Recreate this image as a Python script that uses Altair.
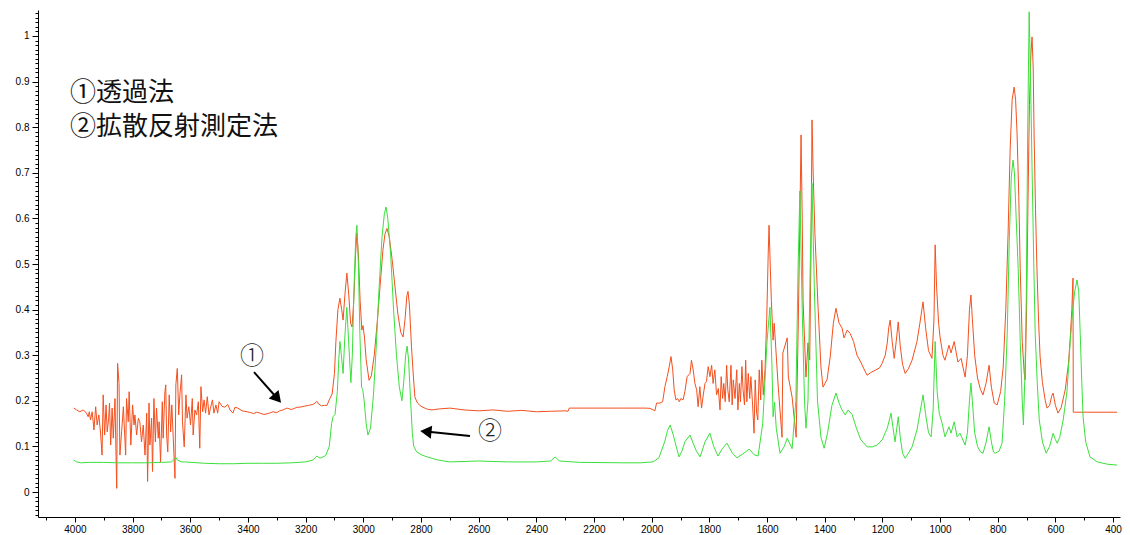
import altair as alt
import pandas as pd

# ① transmission spectrum (orange), (wavenumber, absorbance)
orange_noise = [
    (4004, 0.184), (3994, 0.180), (3983, 0.176), (3971, 0.180), (3960, 0.173), (3954, 0.165), (3950, 0.176),
    (3946, 0.158), (3940, 0.176), (3934, 0.136), (3928, 0.187), (3923, 0.147), (3917, 0.169), (3911, 0.129),
    (3906, 0.081), (3902, 0.213), (3897, 0.125), (3892, 0.191), (3888, 0.132), (3883, 0.162), (3880, 0.195),
    (3876, 0.103), (3871, 0.184), (3867, 0.118), (3861, 0.205), (3858, 0.096), (3855, 0.008), (3852, 0.282),
    (3847, 0.238), (3844, 0.081), (3838, 0.132), (3832, 0.187), (3829, 0.147), (3824, 0.081), (3821, 0.205),
    (3815, 0.154), (3812, 0.220), (3806, 0.103), (3800, 0.191), (3795, 0.147), (3792, 0.169), (3786, 0.125),
    (3780, 0.162), (3775, 0.154), (3769, 0.110), (3763, 0.147), (3757, 0.081), (3751, 0.173), (3748, 0.023),
    (3743, 0.195), (3740, 0.103), (3734, 0.162), (3731, 0.045), (3726, 0.205), (3721, 0.110), (3717, 0.184),
    (3711, 0.118), (3708, 0.154), (3703, 0.066), (3697, 0.198), (3694, 0.118), (3688, 0.220), (3685, 0.235),
    (3682, 0.125), (3678, 0.088), (3673, 0.213), (3668, 0.132), (3664, 0.191), (3659, 0.118), (3653, 0.030),
    (3650, 0.235), (3645, 0.271), (3640, 0.169), (3636, 0.213), (3630, 0.257), (3627, 0.154), (3621, 0.099),
    (3615, 0.213), (3611, 0.162), (3605, 0.187), (3599, 0.147), (3593, 0.205), (3590, 0.125), (3584, 0.180),
    (3578, 0.169), (3572, 0.198), (3567, 0.096), (3563, 0.231), (3557, 0.176), (3552, 0.202), (3547, 0.173),
    (3541, 0.209), (3535, 0.169), (3530, 0.184), (3523, 0.202), (3518, 0.173), (3511, 0.191), (3505, 0.173),
    (3500, 0.198),
]
orange_ch = [
    (3490, 0.188), (3480, 0.186), (3470, 0.192), (3462, 0.180), (3452, 0.173), (3445, 0.186), (3435, 0.184),
    (3420, 0.178), (3403, 0.176), (3390, 0.174), (3380, 0.172), (3370, 0.175), (3358, 0.173), (3345, 0.170),
    (3330, 0.172), (3313, 0.176), (3300, 0.174), (3290, 0.178), (3278, 0.180), (3265, 0.184), (3250, 0.181),
    (3240, 0.183), (3230, 0.186), (3220, 0.186), (3205, 0.188), (3190, 0.190), (3175, 0.192), (3165, 0.196),
    (3161, 0.199), (3155, 0.193), (3145, 0.189), (3135, 0.190), (3126, 0.190), (3116, 0.205), (3108, 0.215),
    (3100, 0.260), (3095, 0.330), (3088, 0.400), (3081, 0.425), (3075, 0.400), (3070, 0.377), (3064, 0.430),
    (3057, 0.480), (3050, 0.430), (3044, 0.370), (3039, 0.362), (3033, 0.420), (3027, 0.520), (3022, 0.568),
    (3017, 0.520), (3011, 0.420), (3005, 0.355), (3001, 0.365), (2996, 0.340), (2990, 0.290), (2980, 0.245),
    (2972, 0.255), (2962, 0.300), (2952, 0.370), (2942, 0.450), (2932, 0.530), (2925, 0.565), (2918, 0.578),
    (2910, 0.560), (2900, 0.510), (2890, 0.450), (2880, 0.390), (2870, 0.350), (2862, 0.340), (2855, 0.380),
    (2849, 0.430), (2845, 0.440), (2840, 0.410), (2833, 0.320), (2826, 0.250), (2821, 0.208), (2812, 0.195),
    (2800, 0.188), (2780, 0.182), (2762, 0.180),
]
orange_flat = [
    (2740, 0.182), (2700, 0.184), (2650, 0.180), (2600, 0.178), (2550, 0.180), (2500, 0.177), (2450, 0.179),
    (2400, 0.176), (2350, 0.177), (2300, 0.178), (2290, 0.177), (2286, 0.184), (2200, 0.184), (2100, 0.184),
    (2020, 0.184),
]
orange_fp = [
    (2006, 0.1835), (1995, 0.180), (1989, 0.178), (1983, 0.195), (1971, 0.195), (1962, 0.198), (1954, 0.231),
    (1946, 0.253), (1939, 0.275), (1933, 0.297), (1927, 0.268), (1922, 0.224), (1916, 0.202), (1910, 0.205),
    (1904, 0.198), (1899, 0.205), (1891, 0.202), (1885, 0.220), (1877, 0.253), (1867, 0.260), (1862, 0.289),
    (1856, 0.268), (1850, 0.238), (1844, 0.224), (1839, 0.187), (1833, 0.231), (1827, 0.184), (1821, 0.213),
    (1815, 0.238), (1810, 0.242), (1804, 0.275), (1798, 0.253), (1792, 0.278), (1787, 0.238), (1781, 0.268),
    (1775, 0.213), (1769, 0.227), (1763, 0.180), (1759, 0.253), (1754, 0.205), (1750, 0.238), (1745, 0.198),
    (1740, 0.278), (1736, 0.224), (1731, 0.198), (1725, 0.278), (1721, 0.191), (1717, 0.246), (1711, 0.205),
    (1705, 0.268), (1701, 0.180), (1696, 0.238), (1692, 0.198), (1687, 0.275), (1683, 0.224), (1678, 0.191),
    (1674, 0.289), (1670, 0.198), (1665, 0.260), (1660, 0.205), (1656, 0.253), (1650, 0.191), (1645, 0.129),
    (1641, 0.246), (1636, 0.173), (1632, 0.158), (1627, 0.268), (1622, 0.202), (1618, 0.289), (1613, 0.213),
    (1607, 0.268), (1601, 0.380), (1596, 0.520), (1593, 0.585), (1589, 0.500), (1585, 0.420), (1579, 0.333),
    (1575, 0.370), (1562, 0.239), (1548, 0.120), (1545, 0.305), (1530, 0.338), (1526, 0.252), (1513, 0.208),
    (1499, 0.120), (1492, 0.355), (1486, 0.600), (1482, 0.783), (1478, 0.600), (1475, 0.420), (1465, 0.252),
    (1458, 0.327), (1452, 0.290), (1448, 0.500), (1444, 0.816), (1440, 0.700), (1434, 0.568), (1423, 0.405),
    (1413, 0.274), (1406, 0.230), (1392, 0.246), (1381, 0.296), (1370, 0.370), (1361, 0.403), (1350, 0.370),
    (1340, 0.360), (1333, 0.338), (1322, 0.355), (1312, 0.348), (1300, 0.330), (1288, 0.300), (1275, 0.285),
    (1267, 0.274), (1253, 0.256), (1240, 0.262), (1225, 0.267), (1210, 0.272), (1201, 0.282), (1190, 0.300),
    (1183, 0.327), (1178, 0.360), (1173, 0.377), (1166, 0.330), (1159, 0.293), (1152, 0.330), (1145, 0.373),
    (1138, 0.320), (1130, 0.280), (1121, 0.260), (1110, 0.270), (1097, 0.289), (1080, 0.330), (1070, 0.370),
    (1059, 0.417), (1050, 0.360), (1040, 0.310), (1028, 0.293), (1021, 0.380), (1017, 0.542), (1012, 0.450),
    (1005, 0.370), (1000, 0.340), (990, 0.300), (983, 0.289), (969, 0.322), (962, 0.305), (951, 0.330),
    (938, 0.285), (927, 0.293), (913, 0.252), (905, 0.300), (898, 0.400), (893, 0.432), (888, 0.380),
    (880, 0.300), (870, 0.250), (860, 0.225), (851, 0.213), (840, 0.240), (830, 0.278), (822, 0.230),
    (812, 0.195), (802, 0.191), (790, 0.220), (781, 0.274), (772, 0.400), (764, 0.568), (757, 0.750),
    (750, 0.860), (743, 0.888), (738, 0.860), (733, 0.787), (727, 0.650), (722, 0.490), (715, 0.330),
    (708, 0.260), (705, 0.246), (700, 0.400), (695, 0.640), (690, 0.850), (685, 0.960), (681, 0.998),
    (677, 0.930), (674, 0.787), (669, 0.620), (664, 0.490), (658, 0.370), (653, 0.296), (645, 0.240),
    (635, 0.200), (629, 0.184), (620, 0.190), (613, 0.210), (608, 0.217), (600, 0.190), (591, 0.173),
    (580, 0.185), (566, 0.224), (555, 0.280), (549, 0.333), (543, 0.400), (539, 0.469), (538, 0.175),
    (386, 0.175),
]

# ② diffuse reflectance spectrum (green)
green_hi = [
    (4004, 0.070), (3994, 0.066), (3980, 0.064), (3950, 0.065), (3900, 0.065), (3850, 0.064), (3800, 0.064),
    (3750, 0.064), (3700, 0.065), (3665, 0.066), (3655, 0.072), (3650, 0.076), (3645, 0.070), (3630, 0.066),
    (3620, 0.066), (3550, 0.063), (3500, 0.062), (3450, 0.062), (3400, 0.063), (3350, 0.063), (3300, 0.063),
    (3250, 0.064), (3200, 0.066), (3175, 0.070), (3161, 0.079), (3150, 0.074), (3130, 0.080), (3118, 0.100),
    (3110, 0.150), (3105, 0.165), (3098, 0.170), (3090, 0.220), (3085, 0.290), (3081, 0.330), (3076, 0.300),
    (3070, 0.260), (3064, 0.340), (3057, 0.405), (3050, 0.320), (3043, 0.240), (3038, 0.300), (3032, 0.450),
    (3026, 0.560), (3022, 0.585), (3017, 0.500), (3012, 0.350), (3006, 0.230), (3002, 0.225), (2997, 0.200),
    (2990, 0.150), (2984, 0.125), (2975, 0.140), (2965, 0.210), (2955, 0.320), (2945, 0.450), (2935, 0.560),
    (2927, 0.610), (2921, 0.625), (2915, 0.600), (2905, 0.520), (2895, 0.400), (2885, 0.300), (2875, 0.230),
    (2866, 0.200), (2860, 0.240), (2853, 0.300), (2848, 0.320), (2843, 0.290), (2836, 0.200), (2830, 0.130),
    (2825, 0.100), (2815, 0.088), (2800, 0.082), (2779, 0.077), (2740, 0.070), (2700, 0.066), (2600, 0.068),
    (2500, 0.066), (2400, 0.066), (2350, 0.068), (2335, 0.077), (2320, 0.068), (2250, 0.065), (2100, 0.064),
    (2040, 0.064),
]
green_fp = [
    (1995, 0.066), (1975, 0.075), (1955, 0.110), (1945, 0.135), (1936, 0.147), (1925, 0.125), (1915, 0.100),
    (1905, 0.077), (1895, 0.090), (1885, 0.110), (1867, 0.125), (1855, 0.105), (1845, 0.090), (1832, 0.077),
    (1815, 0.110), (1798, 0.129), (1785, 0.100), (1770, 0.079), (1755, 0.095), (1739, 0.107), (1720, 0.085),
    (1704, 0.075), (1685, 0.083), (1662, 0.094), (1645, 0.082), (1631, 0.079), (1615, 0.150), (1600, 0.330),
    (1590, 0.405), (1583, 0.280), (1579, 0.165), (1574, 0.197), (1568, 0.140), (1555, 0.085), (1540, 0.100),
    (1530, 0.118), (1513, 0.095), (1500, 0.200), (1492, 0.500), (1486, 0.660), (1478, 0.400), (1470, 0.200),
    (1465, 0.140), (1458, 0.200), (1450, 0.500), (1444, 0.677), (1436, 0.450), (1425, 0.200), (1413, 0.120),
    (1402, 0.096), (1390, 0.130), (1375, 0.190), (1361, 0.217), (1350, 0.195), (1340, 0.180), (1329, 0.169),
    (1319, 0.180), (1305, 0.170), (1290, 0.140), (1275, 0.115), (1253, 0.099), (1235, 0.099), (1218, 0.103),
    (1200, 0.115), (1190, 0.130), (1183, 0.140), (1175, 0.160), (1170, 0.173), (1163, 0.140), (1156, 0.110),
    (1150, 0.140), (1145, 0.165), (1138, 0.120), (1130, 0.085), (1121, 0.074), (1110, 0.085), (1097, 0.099),
    (1080, 0.136), (1068, 0.180), (1059, 0.213), (1050, 0.170), (1040, 0.130), (1031, 0.121), (1024, 0.180),
    (1017, 0.330), (1010, 0.220), (1003, 0.173), (993, 0.151), (983, 0.121), (969, 0.143), (962, 0.129),
    (951, 0.154), (941, 0.121), (931, 0.129), (913, 0.103), (905, 0.130), (898, 0.200), (893, 0.239),
    (888, 0.200), (880, 0.130), (870, 0.100), (860, 0.088), (851, 0.085), (840, 0.110), (830, 0.143),
    (822, 0.110), (815, 0.088), (809, 0.085), (795, 0.090), (785, 0.107), (776, 0.200), (767, 0.348),
    (760, 0.550), (753, 0.690), (747, 0.728), (742, 0.700), (736, 0.600), (729, 0.490), (722, 0.330),
    (715, 0.200), (711, 0.147), (706, 0.250), (701, 0.420), (696, 0.800), (691, 1.053), (686, 0.900),
    (681, 0.713), (675, 0.500), (670, 0.348), (663, 0.240), (656, 0.158), (645, 0.110), (632, 0.085),
    (620, 0.100), (608, 0.129), (600, 0.115), (594, 0.107), (585, 0.120), (573, 0.158), (560, 0.220),
    (549, 0.326), (540, 0.400), (533, 0.440), (525, 0.465), (519, 0.440), (514, 0.348), (509, 0.250),
    (504, 0.165), (495, 0.110), (480, 0.077), (455, 0.066), (420, 0.061), (386, 0.059),
]

# axis tick values
x_major = list(range(4000, 399, -200))
x_minor = list(range(4100, 399, -100))
y_major = [0, 0.1, 0.2, 0.3, 0.4, 0.5, 0.6, 0.7, 0.8, 0.9, 1]
y_minor = [round(i * 0.01, 2) for i in range(-5, 106)]

# annotations
legend_lines = ["①透過法", "②拡散反射測定法"]
legend_x = [4017, 4017]
legend_y = [0.875, 0.800]

mark_labels = ["①", "②"]
mark_x = [3386, 2561]
mark_y = [0.296, 0.132]

arrow_x = [3379, 2630]
arrow_y = [0.263, 0.123]
arrow_x2 = [3298, 2783]
arrow_y2 = [0.205, 0.1325]
head_angle = [139, 276]

ORANGE = "#F4501E"
GREEN = "#3BE03B"

X_DOM = [4128, 376]
Y_DOM = [-0.0548, 1.057]

o_pts = orange_noise + orange_ch + orange_flat + orange_fp
g_pts = green_hi + green_fp
df1 = pd.DataFrame({"wn": [p[0] for p in o_pts], "a": [p[1] for p in o_pts], "i": range(len(o_pts))})
df2 = pd.DataFrame({"wn": [p[0] for p in g_pts], "a": [p[1] for p in g_pts], "i": range(len(g_pts))})

xs = alt.Scale(domain=X_DOM, nice=False, zero=False)
ys = alt.Scale(domain=Y_DOM, nice=False, zero=False)

label_font = "Liberation Sans"

x_major_axis = alt.Axis(values=x_major, format="d", grid=False, tickSize=5, tickColor="black",
                        domainColor="black", labelColor="black", labelFont=label_font, labelFontSize=10,
                        labelPadding=2, title=None, orient="bottom", labelFlush=False, labelOverlap=False)
y_major_axis = alt.Axis(values=y_major, format="~g", grid=False, tickSize=6, tickColor="black",
                        domainColor="black", labelColor="black", labelFont=label_font, labelFontSize=10,
                        labelPadding=3, title=None, orient="left", labelFlush=False, labelOverlap=False)
x_minor_axis = alt.Axis(values=x_minor, labels=False, grid=False, tickSize=3, tickColor="black",
                        domain=False, title=None, orient="bottom")
y_minor_axis = alt.Axis(values=y_minor, labels=False, grid=False, tickSize=3, tickColor="black",
                        domain=False, title=None, orient="left")

orange_line = alt.Chart(df1).mark_line(color=ORANGE, strokeWidth=1, clip=True).encode(
    x=alt.X("wn:Q", scale=xs, axis=x_major_axis),
    y=alt.Y("a:Q", scale=ys, axis=y_major_axis),
    order=alt.Order("i:Q"),
)
green_line = alt.Chart(df2).mark_line(color=GREEN, strokeWidth=1, clip=True).encode(
    x=alt.X("wn:Q", scale=xs, axis=x_minor_axis),
    y=alt.Y("a:Q", scale=ys, axis=y_minor_axis),
    order=alt.Order("i:Q"),
)

leg_df = pd.DataFrame({"t": legend_lines, "x": legend_x, "y": legend_y})
legend_text = alt.Chart(leg_df).mark_text(
    align="left", baseline="middle", font="Noto Sans CJK JP", fontSize=26, color="#111111"
).encode(x=alt.X("x:Q", scale=xs, axis=None), y=alt.Y("y:Q", scale=ys, axis=None), text="t:N")

lab_df = pd.DataFrame({"t": mark_labels, "x": mark_x, "y": mark_y})
mark_text = alt.Chart(lab_df).mark_text(
    align="center", baseline="middle", font="Noto Sans CJK JP", fontSize=24, fontWeight=300, color="#222222"
).encode(x=alt.X("x:Q", scale=xs, axis=None), y=alt.Y("y:Q", scale=ys, axis=None), text="t:N")

arr_df = pd.DataFrame({"x": arrow_x, "y": arrow_y, "x2": arrow_x2, "y2": arrow_y2, "ang": head_angle})
arrow_shaft = alt.Chart(arr_df).mark_rule(color="black", strokeWidth=2).encode(
    x=alt.X("x:Q", scale=xs, axis=None), y=alt.Y("y:Q", scale=ys, axis=None), x2="x2:Q", y2="y2:Q")
arrow_head = alt.Chart(arr_df).mark_point(shape="triangle-up", filled=True, color="black", opacity=1, size=170).encode(
    x=alt.X("x2:Q", scale=xs, axis=None), y=alt.Y("y2:Q", scale=ys, axis=None),
    angle=alt.Angle("ang:Q", scale=None))

chart = alt.layer(orange_line, green_line, legend_text, mark_text, arrow_shaft, arrow_head).resolve_axis(
    x="independent", y="independent"
).properties(
    width=1082, height=507,
    autosize=alt.AutoSizeParams(type="none"),
    padding={"left": 30, "top": 2, "right": 2, "bottom": 18},
    background="white",
).configure_view(stroke=None)

chart.save("out.html", embed_options={"renderer": "svg", "actions": False})
